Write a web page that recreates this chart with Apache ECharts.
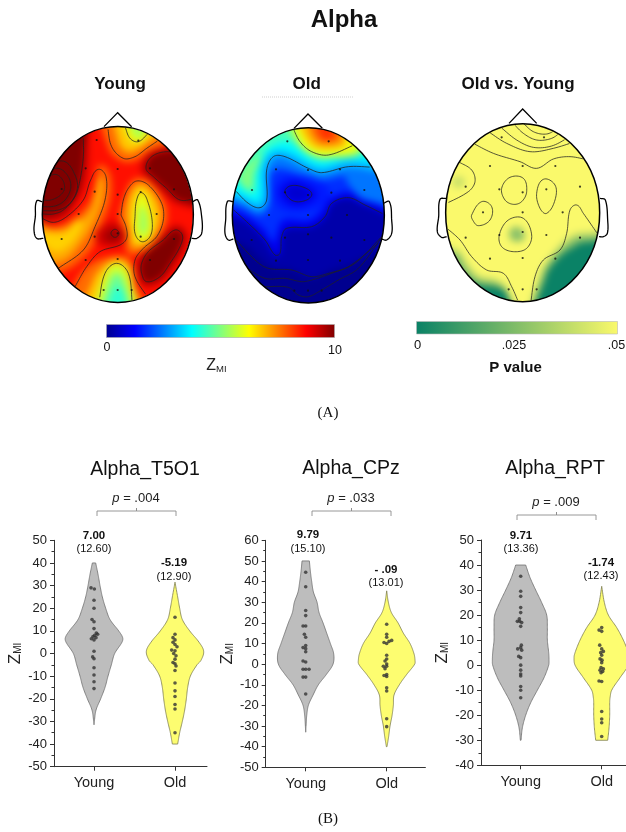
<!DOCTYPE html>
<html><head><meta charset="utf-8">
<style>
html,body{margin:0;padding:0;background:#fff}
#maps,#main{position:absolute;left:0;top:0;width:626px;height:832px}
#maps{filter:blur(3.5px);
clip-path:path('M42 214.5a75.5 88 0 1 0 151 0a75.5 88 0 1 0 -151 0Z M232.3 215.3a76 87.7 0 1 0 152 0a76 87.7 0 1 0 -152 0Z M445.7 212.7a77 89 0 1 0 154 0a77 89 0 1 0 -154 0Z')}
</style>
<script src="https://cdn.jsdelivr.net/npm/echarts@6/dist/echarts.min.js"></script>
</head><body>
<div id="maps"></div><div id="main"></div>
<script>
// ---------- Violin data: z levels and half widths ----------
const categories = ['Young','Old'];
const t5YoungZ=[40,35,30,25,20,15,10,7,5,0,-5,-10,-15,-20,-25,-30,-31.5];
const t5YoungW=[5,12,18,25,35,48,74,86,84,62,52,42,33,20,6,1,0];
const t5OldZ=[31.5,25,20,15,10,5,1,-3,-5,-10,-15,-20,-25,-30,-35,-40];
const t5OldW=[0,8,14,22,44,72,86,78,66,46,38,34,29,22,14,8];
const cpYoungZ=[50,45,40,35,30,25,20,15,10,5,0,-5,-10,-15,-20,-25,-30,-33];
const cpYoungW=[11,14,18,23,34,40,52,63,74,84,82,62,38,22,8,3,1,0];
const cpOldZ=[35.5,30,25,20,15,10,5,2,0,-5,-10,-15,-20,-25,-30,-35,-40];
const cpOldW=[0,5,14,34,50,70,82,85,84,60,38,22,20,16,10,6,1];
const rpYoungZ=[40,35,30,25,20,15,10,5,2,0,-5,-10,-15,-20,-25,-30];
const rpYoungW=[15,28,45,63,78,80,80,84,85,84,70,50,30,15,5,1];
const rpOldZ=[31.5,25,20,15,10,5,3,0,-5,-10,-13,-15,-20,-25,-30];
const rpOldW=[0,8,20,45,65,80,83,80,55,30,25,24,24,22,18];
// dots: [side offset, z]
const t5YoungDots=[[-9,29],[1,28.5],[0,23.5],[0,20],[-6,15],[0,14],[0,11],[7,9],[11,8.5],[2,8],[-3,7.5],[6,7],[-8,6.5],[0,6],[0,1],[-4,-1.5],[0,-2.3],[0,-6.3],[0,-9.5],[0,-12.5],[0,-15.5]];
const t5OldDots=[[0,16],[0,8.5],[-6,7],[0,6],[-6,5],[0,4],[6,3],[-10,1.5],[0,1.2],[-4,0],[3,-1],[0,-2.5],[-6,-4],[0,-4.5],[3,-5.5],[0,-7.5],[0,-13],[0,-16.5],[0,-19],[0,-22.5],[0,-24.5],[0,-35]];
const cpYoungDots=[[0,44.5],[0,37.5],[0,26],[0,23.5],[-8,18.5],[0,18.5],[-4,14.5],[0,13],[0,9],[-8,8],[0,7.5],[0,6],[-8,1.5],[0,1],[-8,-2.5],[0,-2.5],[10,-2.5],[-8,-6.3],[0,-6.3],[0,-14.5]];
const cpOldDots=[[0,19.3],[0,14.5],[0,13],[15,11.5],[7,11],[-8,10.5],[0,10],[0,4.3],[0,2.5],[-5,1.5],[0,0],[-10,-1],[0,-1],[-5,-2.2],[0,-5],[-8,-5.5],[0,-6],[0,-11.5],[0,-13],[0,-26.5],[0,-30.3]];
const rpYoungDots=[[0,35.5],[0,29.5],[0,27.5],[0,23],[0,21],[-4,18.5],[-10,17.5],[-3,17.5],[3,17],[0,15.5],[2,8],[0,7],[-9,6.5],[3,6],[-6,3.5],[0,3],[0,0],[0,-2],[0,-3.5],[0,-4.3],[0,-8.5],[0,-10],[0,-13]];
const rpOldDots=[[0,15],[-8,14],[0,13.5],[-6,8],[0,6.5],[5,5.5],[-3,5],[0,4],[-5,2.5],[1,2],[0,1],[-2,-1],[5,-1.5],[-5,-2],[3,-2.5],[-2,-3],[-8,-6.3],[0,-6.5],[0,-18.5],[0,-21.5],[0,-23],[0,-28.5]];

// ---------- Topographic maps: nested regions [level, points] ----------
const youngRegions=[
[8.6,[[0,0],[600,0],[600,750],[0,750]],0],
[9.3,[[205,120],[205,230],[205,300],[195,370],[170,425],[125,478],[20,480],[20,120]],1],
[10,[[190,120],[190,290],[180,360],[165,410],[130,450],[100,462],[20,462],[20,120]],1],
[9.3,[[362,328],[385,280],[440,262],[580,265],[580,435],[480,435],[430,400],[390,360]],1],
[10,[[378,325],[395,290],[440,275],[580,283],[580,418],[480,420],[440,385],[400,350]],1],
[9.3,[[350,610],[375,565],[425,525],[470,495],[500,520],[495,565],[460,625],[425,665],[375,680],[350,645]],1],
[10,[[365,610],[385,575],[430,540],[465,510],[487,525],[480,560],[450,610],[420,650],[380,665],[365,640]],1],
[7.8,[[20,478],[100,500],[145,485],[205,430],[230,365],[238,315],[270,340],[272,420],[240,505],[205,580],[115,640],[20,620]],1],
[7.1,[[20,500],[100,510],[150,500],[210,450],[225,390],[240,350],[250,400],[230,470],[190,540],[125,605],[20,590]],1],
[6.7,[[60,525],[130,520],[180,480],[170,530],[120,575],[85,565]],1],
[7.7,[[250,120],[265,265],[310,305],[350,300],[385,275],[450,235],[380,120]],1],
[6.8,[[285,120],[295,245],[320,275],[350,270],[385,245],[420,215],[370,120]],1],
[6.0,[[312,140],[328,235],[355,247],[382,225],[365,140]],1],
[5.4,[[332,170],[345,228],[360,232],[372,212],[355,170]],1],
[7.7,[[298,470],[310,420],[330,370],[352,355],[390,365],[435,430],[440,480],[415,535],[370,575],[325,580],[315,520]],1],
[6.8,[[322,470],[330,410],[355,375],[385,385],[415,435],[420,480],[395,535],[360,560],[335,555],[330,510]],1],
[6.0,[[343,470],[350,420],[365,398],[385,430],[397,490],[390,530],[365,545],[345,520]],1],
[5.3,[[358,480],[365,440],[378,460],[383,500],[370,525],[358,510]],1],
[7.7,[[130,790],[170,660],[215,610],[270,590],[320,590],[340,620],[350,680],[395,790]],1],
[6.8,[[195,790],[220,660],[255,615],[290,598],[325,615],[340,680],[352,790]],1],
[5.8,[[232,790],[255,640],[290,610],[325,640],[340,790]],1],
[4.8,[[248,790],[268,665],[290,640],[312,665],[327,790]],1],
[4.2,[[262,790],[280,690],[295,680],[310,695],[318,790]],1],
[9.2,[[225,525],[250,495],[285,485],[315,520],[315,545],[280,560],[240,555]],1],
[9.7,[[255,520],[285,505],[305,525],[285,545],[258,540]],1]];
const oldRegions=[
[0,[[0,0],[600,0],[600,750],[0,750]],0],
[0.3,[[0,500],[100,560],[140,600],[180,625],[230,630],[290,655],[350,630],[400,615],[440,595],[600,500],[600,60],[0,60]],1],
[1.1,[[0,430],[100,490],[150,540],[180,585],[195,580],[200,530],[215,505],[290,500],[330,470],[350,430],[400,413],[450,435],[600,470],[600,60],[0,60]],1],
[1.7,[[0,410],[100,470],[150,510],[175,545],[185,520],[205,480],[280,480],[320,450],[345,415],[400,395],[450,415],[600,450],[600,60],[0,60]],1],
[2.4,[[395,345],[600,350],[600,430],[450,420],[410,385]],1],
[2.4,[[0,390],[90,445],[135,465],[160,440],[165,345],[190,325],[260,345],[320,360],[400,345],[600,350],[600,60],[0,60]],1],
[3.1,[[0,370],[100,435],[135,448],[158,420],[158,330],[178,293],[210,293],[280,328],[320,341],[400,323],[600,322],[600,60],[0,60]],1],
[3.7,[[0,350],[100,415],[130,425],[140,400],[140,320],[170,275],[220,275],[285,310],[325,320],[400,300],[600,300],[600,60],[0,60]],1],
[4.4,[[45,330],[85,385],[115,400],[125,345],[155,270],[220,245],[290,285],[340,295],[440,265],[350,160],[200,160],[100,260]],1],
[5.0,[[75,350],[105,388],[115,340],[140,285],[115,300]],1],
[5.3,[[215,150],[240,245],[290,290],[340,298],[450,262],[345,150]],1],
[6.1,[[235,150],[257,245],[290,275],[340,285],[430,258],[345,150]],1],
[7.0,[[262,170],[285,250],[340,268],[395,245],[345,170]],1],
[7.8,[[288,180],[305,240],[345,250],[378,232],[335,180]],1],
[8.3,[[310,195],[325,235],[350,235],[358,220],[330,195]],1],
[1.5,[[175,400],[205,350],[300,355],[345,400],[310,445],[205,450]],1],
[1.0,[[195,395],[225,365],[265,370],[305,400],[280,430],[225,435]],1],
[0.7,[[215,395],[230,382],[258,383],[282,400],[270,415],[235,418]],1]];
const pRegions=[
[1,[[0,0],[618,0],[618,750],[0,750]],0],
[.8,[[345,790],[360,640],[402,572],[452,525],[495,515],[600,530],[600,790]],1],
[.45,[[352,790],[370,640],[410,582],[458,540],[492,530],[600,545],[600,790]],1],
[0,[[362,790],[378,650],[418,592],[465,560],[492,548],[600,560],[600,790]],1],
[.75,[[30,565],[115,570],[140,605],[175,645],[235,660],[265,690],[282,790],[30,790]],1],
[.4,[[30,585],[108,585],[132,622],[172,660],[228,672],[258,698],[275,790],[30,790]],1],
[0,[[50,620],[120,650],[170,675],[240,685],[262,705],[272,790],[50,790]],1],
[.55,[[270,510],[290,500],[312,515],[310,540],[285,545],[270,535]],1],
[.8,[[100,355],[125,350],[135,370],[115,385],[98,375]],1]];

// contour lines
const youngContours=[
[[190,235],[190,290],[180,360],[165,410],[130,450],[100,462],[68,462]],
[[70,360],[105,343],[128,360],[133,388],[118,408],[92,420],[60,420]],
[[70,340],[115,325],[145,350],[152,385],[135,420],[105,438],[60,440]],
[[85,310],[135,305],[165,345],[172,385],[150,430],[115,450],[60,452]],
[[60,472],[100,487],[140,470],[190,420],[212,360],[235,328],[258,350],[255,420],[225,500],[190,570],[115,625]],
[[262,195],[275,260],[310,295],[345,290],[380,265],[420,238]],
[[315,200],[330,235],[355,245],[385,220]],
[[490,285],[440,275],[395,290],[378,325],[400,350],[440,385],[480,420],[530,415]],
[[165,680],[200,620],[240,575],[300,555],[320,535],[318,500],[303,465]],
[[303,465],[310,420],[325,385],[350,363],[385,375],[425,430],[430,480],[410,530],[370,565],[345,600],[345,650],[385,715]],
[[345,470],[350,420],[365,398],[385,430],[397,490],[390,530],[365,545],[345,520],[345,470]],
[[236,730],[255,640],[290,610],[325,640],[337,730]],
[[365,610],[385,575],[430,540],[465,510],[487,525],[480,560],[450,610],[420,650],[380,665],[365,640],[365,610]],
[[273,520],[285,508],[297,520],[285,532],[273,520]]];
const oldContours=[
[[45,440],[100,490],[150,540],[180,585],[195,580],[200,530],[215,505],[290,500],[330,470],[350,430],[400,413],[450,435],[515,467]],
[[55,385],[100,430],[135,443],[155,420],[155,330],[175,290],[210,290],[280,325],[320,338],[400,320],[480,322]],
[[232,200],[255,245],[290,275],[340,285],[420,254]],
[[210,395],[225,378],[260,380],[290,400],[275,420],[235,423],[210,395]],
[[50,525],[120,600],[160,625],[230,630],[290,650],[340,640],[400,620],[490,550]],
[[90,620],[150,655],[210,655],[260,665],[290,660],[350,640],[420,610],[500,530]],
[[150,680],[220,682],[250,705],[280,710],[320,690],[370,660],[430,625],[505,525]]];
const pContours=[
[[305,185],[340,215],[380,222],[415,205]],
[[275,185],[310,220],[350,240],[395,235],[430,210]],
[[240,200],[290,240],[340,262],[395,258],[450,230]],
[[205,215],[260,250],[330,275],[400,265],[480,240]],
[[150,245],[220,280],[300,305],[350,325],[400,297],[450,290],[505,300]],
[[115,305],[155,330],[165,365],[145,395],[70,435]],
[[245,385],[270,352],[310,355],[320,395],[305,425],[280,433],[255,420],[245,385]],
[[350,400],[370,358],[405,375],[405,420],[380,460],[360,445],[350,400]],
[[155,465],[185,425],[215,440],[210,480],[175,497],[158,480],[155,465]],
[[238,525],[265,480],[310,475],[335,525],[320,565],[280,575],[245,560],[238,525]],
[[75,500],[120,540],[155,590],[200,630],[250,640],[275,680],[297,730]],
[[332,730],[345,650],[370,600],[420,570],[440,520],[450,450],[470,435],[490,460],[535,525]]];
// electrodes
const youngSensors=[[230,240],[355,242],[197,325],[293,327],[390,325],[125,387],[224,395],[293,404],[362,396],[462,388],[176,462],[293,462],[410,462],[125,537],[224,530],[293,520],[362,530],[462,537],[197,600],[293,597],[390,600],[251,690],[293,690],[335,690]];
const oldSensors=[[217,244],[341,244],[183,328],[279,330],[375,328],[111,390],[210,397],[279,405],[349,398],[448,390],[162,465],[279,465],[396,465],[110,540],[210,533],[279,523],[349,533],[448,540],[183,602],[279,600],[375,602],[238,692],[279,692],[320,692]];
const pSensors=[[245,232],[372,232],[210,318],[308,318],[406,318],[137,380],[238,388],[308,397],[379,388],[480,380],[189,457],[308,457],[428,457],[137,533],[238,525],[308,516],[379,525],[480,533],[210,596],[308,594],[406,596],[266,688],[308,688],[350,688]];
// head drawings: centre/radii, nose, ears
const heads=[
 {c:[293.5,463.5],r:[226.5,264],nose:[[252,200],[293,158],[335,200]],earL:[[67,425],[50,423],[46,470],[42,510],[50,535],[70,535]],earR:[[518,425],[533,420],[545,470],[545,520],[530,535],[515,535]]},
 {c:[280,466],r:[228,263],nose:[[237,205],[279,162],[322,205]],earL:[[55,425],[37,425],[32,480],[30,520],[40,540],[55,537]],earR:[[505,430],[523,425],[530,480],[530,520],[515,540],[500,537]]},
 {c:[308,458],r:[231,267],nose:[[267,190],[308,147],[350,190]],earL:[[78,415],[60,418],[56,470],[52,515],[65,532],[80,530]],earR:[[540,415],[556,420],[563,480],[562,520],[550,530],[537,530]]}];

// colour scales
const jetStops=[[0,'#00008f'],[.125,'#0000ff'],[.375,'#00ffff'],[.625,'#ffff00'],[.875,'#ff0000'],[1,'#800000']];
const pStops=[[0,'#0a8266'],[1,'#faf96b']];
function hex(c){return [1,3,5].map(i=>parseInt(c.substr(i,2),16));}
function sample(stops,t){
  for(let i=1;i<stops.length;i++){ if(t<=stops[i][0]){
    const a=stops[i-1],b=stops[i],f=(t-a[0])/(b[0]-a[0]),A=hex(a[1]),B=hex(b[1]);
    return 'rgb('+A.map((v,k)=>Math.round(v+(B[k]-v)*f)).join(',')+')';}}
  return stops[stops.length-1][1];
}
// rounds a read-off outline for drawing: keeps every vertex, bends between them
function curve(pts,closed){
  const n=pts.length,out=[];
  const at=i=>closed?pts[(i+n)%n]:pts[Math.max(0,Math.min(n-1,i))];
  const tan=i=>{const p=at(i-1),q=at(i+1),dx=q[0]-p[0],dy=q[1]-p[1],d=Math.hypot(dx,dy)||1;return [dx/d,dy/d];};
  const segs=closed?n:n-1;
  for(let i=0;i<segs;i++){
    const a=at(i),b=at(i+1),L=Math.hypot(b[0]-a[0],b[1]-a[1]),t0=tan(i),t1=tan(i+1);
    const c1=[a[0]+t0[0]*L/3,a[1]+t0[1]*L/3],c2=[b[0]-t1[0]*L/3,b[1]-t1[1]*L/3];
    for(let k=0;k<10;k++){const u=k/10,v=1-u;
      out.push([v*v*v*a[0]+3*v*v*u*c1[0]+3*v*u*u*c2[0]+u*u*u*b[0],v*v*v*a[1]+3*v*v*u*c1[1]+3*v*u*u*c2[1]+u*u*u*b[1]]);}
  }
  if(!closed)out.push(pts[n-1]);
  return out;
}
const panels=[{left:20,top:60,width:200,height:250},{left:215,top:60,width:200,height:250},{left:420,top:60,width:206,height:250}];
const panelAxes=()=>({
  xAxis:panels.map((p,i)=>({gridIndex:i,type:'value',min:0,max:i==2?618:600,show:false})),
  yAxis:panels.map((p,i)=>({gridIndex:i,type:'value',min:0,max:750,inverse:true,show:false})),
  grid:panels.map(p=>({left:p.left,top:p.top,width:p.width,height:p.height,outerBoundsMode:'none'}))});

// ---------- blurred colour layer ----------
const mapChart=echarts.init(document.getElementById('maps'),null,{renderer:'canvas'});
function regionSeries(regions,i,stops,scale){
  return {type:'custom',coordinateSystem:'cartesian2d',xAxisIndex:i,yAxisIndex:i,silent:true,animation:false,clip:false,
    data:regions.map((r,k)=>[k,r[0]]),
    renderItem:(params,api)=>{const r=regions[params.dataIndex],P=r[1].map(p=>api.coord(p));
      return {type:'polygon',shape:{points:r[2]?curve(P,true):P},style:{fill:sample(stops,r[0]/scale),stroke:null}};}};
}
mapChart.setOption(Object.assign(panelAxes(),{animation:false,backgroundColor:'#fff',
  series:[regionSeries(youngRegions,0,jetStops,10),regionSeries(oldRegions,1,jetStops,10),regionSeries(pRegions,2,pStops,1)]}));

// ---------- crisp layer ----------
const chart=echarts.init(document.getElementById('main'),null,{renderer:'canvas'});
const FONT='"Liberation Sans",Arial,sans-serif';
function contourSeries(list,i){
  const h=heads[i];
  return {type:'custom',coordinateSystem:'cartesian2d',xAxisIndex:i,yAxisIndex:i,silent:true,clip:false,
    data:list.map((c,k)=>[k]),
    renderItem:(params,api)=>{
      const L=list[params.dataIndex],f=L[0],e=L[L.length-1],loop=f[0]===e[0]&&f[1]===e[1];
      const P=(loop?L.slice(0,-1):L).map(p=>api.coord(p));
      const c=api.coord(h.c),s=api.size(h.r);
      let pts=curve(P,loop); if(loop)pts.push(pts[0]);
      pts=pts.filter(p=>Math.pow((p[0]-c[0])/s[0],2)+Math.pow((p[1]-c[1])/s[1],2)<1); // lines end at the scalp outline
      return {type:'polyline',shape:{points:pts},style:{fill:null,stroke:'#222',lineWidth:.75}};}};
}
function headSeries(i){
  const h=heads[i];
  return {type:'custom',coordinateSystem:'cartesian2d',xAxisIndex:i,yAxisIndex:i,silent:true,clip:false,
    data:[[0]],
    renderItem:(params,api)=>{
      const c=api.coord(h.c),s=api.size(h.r);
      const line={fill:null,stroke:'#000',lineWidth:1.3};
      return {type:'group',children:[
        {type:'ellipse',shape:{cx:c[0],cy:c[1],rx:s[0],ry:s[1]},style:{fill:null,stroke:'#000',lineWidth:1.5}},
        {type:'polyline',shape:{points:h.nose.map(p=>api.coord(p))},style:line},
        {type:'polyline',shape:{points:curve(h.earL.map(p=>api.coord(p)),false)},style:line},
        {type:'polyline',shape:{points:curve(h.earR.map(p=>api.coord(p)),false)},style:line}]};
    }};
}
function sensorSeries(list,i){
  return {type:'scatter',xAxisIndex:i,yAxisIndex:i,data:list,symbolSize:2.2,silent:true,itemStyle:{color:'#111'}};
}
const DENS=243; // zoomed pixels per category step
function violinSeries(zs,ws,cat,fill,stroke,g){
  return {type:'custom',coordinateSystem:'cartesian2d',xAxisIndex:g,yAxisIndex:g,silent:true,clip:false,
    data:[[cat,zs[0]]],
    renderItem:(params,api)=>{
      const right=curve(zs.map((z,k)=>api.coord([cat+ws[k]/DENS,z])),false);
      const left=curve(zs.map((z,k)=>api.coord([cat-ws[k]/DENS,z])),false).reverse();
      return {type:'polygon',shape:{points:right.concat(left)},style:{fill:fill,stroke:stroke,lineWidth:.8}};
    }};
}
function dotSeries(list,cat,g){
  return {type:'scatter',xAxisIndex:g,yAxisIndex:g,z:5,silent:true,symbolSize:3.6,itemStyle:{color:'#333'},
    data:list.map(d=>[cat+d[0]/DENS,d[1]])};
}
const GREY='#bdbdbd',GSTROKE='#6e6e6e',YEL='#fdfd70',YSTROKE='#7d7d50';
const violinGrids=[
 {left:54,top:540.3,width:153,height:226.4,xMin:.506,xMax:2.395,yMin:-50,yMax:50,gap:28},
 {left:265.7,top:540.3,width:159.7,height:227,xMin:.506,xMax:2.478,yMin:-50,yMax:60,gap:28},
 {left:481,top:540,width:160,height:225.3,xMin:.51,xMax:2.485,yMin:-40,yMax:50,gap:27}];
const base=panelAxes();
const grid=base.grid.concat(violinGrids.map(v=>({left:v.left,top:v.top,width:v.width,height:v.height,outerBoundsMode:'none'})));
const xAxis=base.xAxis.concat(violinGrids.map((v,i)=>({gridIndex:i+3,type:'value',min:v.xMin,max:v.xMax,
  splitLine:{show:false},axisLine:{show:true,onZero:false,lineStyle:{color:'#333'}},
  axisTick:{show:true,length:4,customValues:[1,2],lineStyle:{color:'#333'}},
  axisLabel:{show:true,customValues:[1,2],formatter:val=>categories[Math.round(val)-1],fontFamily:FONT,fontSize:14.5,color:'#222',margin:9}})));
const yAxis=base.yAxis.concat(violinGrids.map((v,i)=>({gridIndex:i+3,type:'value',min:v.yMin,max:v.yMax,interval:10,
  splitLine:{show:false},axisLine:{show:true,onZero:false,lineStyle:{color:'#333'}},
  axisTick:{show:true,length:4,lineStyle:{color:'#333'}},
  minorTick:{show:true,splitNumber:2,length:2.5,lineStyle:{color:'#333'}},minorSplitLine:{show:false},
  axisLabel:{fontFamily:FONT,fontSize:13,color:'#222',margin:7},
  name:'{z|Z}{m|MI}',nameLocation:'middle',nameRotate:90,nameGap:v.gap,
  nameTextStyle:{fontFamily:FONT,color:'#222',rich:{z:{fontSize:17,fontFamily:FONT,color:'#222'},m:{fontSize:10,fontFamily:FONT,color:'#222',padding:[5,0,0,0]}}}})));
const series=[
 contourSeries(youngContours,0),contourSeries(oldContours,1),contourSeries(pContours,2),
 headSeries(0),headSeries(1),headSeries(2),
 sensorSeries(youngSensors,0),sensorSeries(oldSensors,1),sensorSeries(pSensors,2),
 violinSeries(t5YoungZ,t5YoungW,1,GREY,GSTROKE,3),violinSeries(t5OldZ,t5OldW,2,YEL,YSTROKE,3),
 dotSeries(t5YoungDots,1,3),dotSeries(t5OldDots,2,3),
 violinSeries(cpYoungZ,cpYoungW,1,GREY,GSTROKE,4),violinSeries(cpOldZ,cpOldW,2,YEL,YSTROKE,4),
 dotSeries(cpYoungDots,1,4),dotSeries(cpOldDots,2,4),
 violinSeries(rpYoungZ,rpYoungW,1,GREY,GSTROKE,5),violinSeries(rpOldZ,rpOldW,2,YEL,YSTROKE,5),
 dotSeries(rpYoungDots,1,5),dotSeries(rpOldDots,2,5)];

function T(text,x,y,size,opt){
  opt=opt||{};
  return {type:'text',x:x,y:y,silent:true,z:20,style:Object.assign({text:text,textAlign:'center',textVerticalAlign:'middle',
    fontFamily:FONT,fontSize:size,fill:opt.fill||'#111',fontWeight:opt.bold?'bold':'normal'},opt.extra||{})};
}
const gradient=(stops)=>({type:'linear',x:0,y:0,x2:1,y2:0,colorStops:stops.map(s=>({offset:s[0],color:s[1]}))});
const bracket=(x0,x1,y)=>({type:'polyline',silent:true,shape:{points:[[x0,y+5],[x0,y],[(x0+x1)/2,y],[(x0+x1)/2,y-3],[(x0+x1)/2,y],[x1,y],[x1,y+5]]},style:{fill:null,stroke:'#8c8c8c',lineWidth:.9}});
const pRich={i:{fontStyle:'italic',fontFamily:FONT,fontSize:13,fill:'#222'},n:{fontFamily:FONT,fontSize:13,fill:'#222'}};
const zRich={z:{fontFamily:FONT,fontSize:16,fill:'#222'},m:{fontFamily:FONT,fontSize:9.5,fill:'#222',padding:[6,0,0,0]}};
const graphic=[
 T('Alpha',344,20,24,{bold:true}),T('Young',120,84,17,{bold:true}),T('Old',306.7,84,17,{bold:true}),T('Old vs. Young',518,84,17,{bold:true}),
 {type:'line',silent:true,shape:{x1:262,y1:97,x2:354,y2:97},style:{stroke:'#cfcfcf',lineWidth:1,lineDash:[1,1]}},
 {type:'rect',silent:true,shape:{x:106.5,y:324.5,width:228,height:13},style:{fill:gradient(jetStops),stroke:'#aaa',lineWidth:.6}},
 {type:'rect',silent:true,shape:{x:416.5,y:321.5,width:201,height:12.5},style:{fill:gradient(pStops),stroke:'#bbb',lineWidth:.6}},
 T('0',107,348,12.5),T('10',335,351,12.5),
 T('{z|Z}{m|MI}',216.5,366,16,{extra:{rich:zRich}}),
 T('0',417.5,345,13),T('.025',514,346,12.5),T('.05',616.5,345.5,12.5),T('P value',515.6,367.5,15,{bold:true}),
 {type:'text',x:328,y:413,silent:true,style:{text:'(A)',textAlign:'center',textVerticalAlign:'middle',fontFamily:'"Liberation Serif",serif',fontSize:15,fill:'#111'}},
 {type:'text',x:328,y:819,silent:true,style:{text:'(B)',textAlign:'center',textVerticalAlign:'middle',fontFamily:'"Liberation Serif",serif',fontSize:15,fill:'#111'}},
 T('Alpha_T5O1',145,470,19.5),T('Alpha_CPz',351,469,19.5),T('Alpha_RPT',555,469,19.5),
 T('{i|p}{n| = .004}',136,498,13,{extra:{rich:pRich}}),T('{i|p}{n| = .033}',351,498,13,{extra:{rich:pRich}}),T('{i|p}{n| = .009}',556,502,13,{extra:{rich:pRich}}),
 bracket(97,176,511),bracket(312,391,511),bracket(517,596,515),
 T('7.00',94,536,11.5,{bold:true}),T('(12.60)',94,549,11),T('-5.19',174,563,11.5,{bold:true}),T('(12.90)',174,577,11),
 T('9.79',308,535,11.5,{bold:true}),T('(15.10)',308,549,11),T('- .09',386,570,11.5,{bold:true}),T('(13.01)',386,583,11),
 T('9.71',521,536,11.5,{bold:true}),T('(13.36)',521,549,11),T('-1.74',601,563,11.5,{bold:true}),T('(12.43)',601,576,11)];
chart.setOption({animation:false,backgroundColor:'transparent',grid,xAxis,yAxis,series,graphic});
</script>
</body></html>
